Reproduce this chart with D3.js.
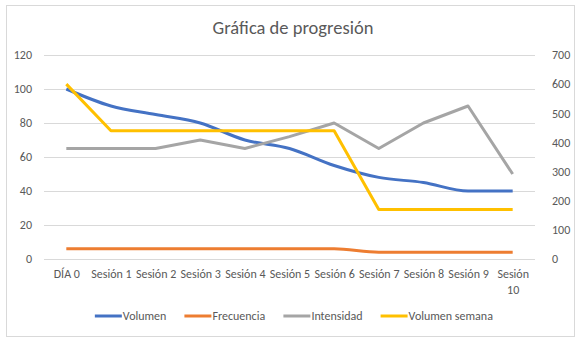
<!DOCTYPE html>
<html>
<head>
  <meta charset="utf-8">
  <style>
    body { margin: 0; background: #fff; }
    text { font-family: Carlito, Lato, "Liberation Sans", sans-serif; fill: #595959; }
  </style>
</head>
<body>
  <script src="https://cdn.jsdelivr.net/npm/d3@7"></script>
  <script>
    // data
    var sesiones = ["DÍA 0", "Sesión 1", "Sesión 2", "Sesión 3", "Sesión 4", "Sesión 5",
                    "Sesión 6", "Sesión 7", "Sesión 8", "Sesión 9", "Sesión 10"];
    var volumen = [100, 90, 85, 80, 70, 65, 55, 48, 45, 40, 40];
    var frecuencia = [6, 6, 6, 6, 6, 6, 6, 4, 4, 4, 4];
    var intensidad = [65, 65, 65, 70, 65, 72, 80, 65, 80, 90, 50];
    var volumenSemana = [600, 440, 440, 440, 440, 440, 440, 170, 170, 170, 170];
    var leftTicks = [0, 20, 40, 60, 80, 100, 120];
    var rightTicks = [0, 100, 200, 300, 400, 500, 600, 700];

    var global_width = 581, global_height = 342;
    var margin = {top: 55, right: 46, bottom: 83, left: 44};
    var width = global_width - margin.left - margin.right,
        height = global_height - margin.top - margin.bottom;

    var svg = d3.select("body").append("svg")
      .attr("width", global_width)
      .attr("height", global_height);

    // chart border
    svg.append("rect")
      .attr("x", 6.5).attr("y", 5.5)
      .attr("width", 568).attr("height", 331)
      .attr("fill", "#fff")
      .attr("stroke", "#d9d9d9");

    var g = svg.append("g")
      .attr("transform", "translate(" + margin.left + "," + margin.top + ")");

    var x = d3.scalePoint().domain(sesiones).range([0, width]).padding(0.5);
    var y = d3.scaleLinear().domain([0, 120]).range([height, 0]);
    var y2 = d3.scaleLinear().domain([0, 700]).range([height, 0]);

    // gridlines
    g.selectAll(".grid")
      .data(leftTicks)
      .enter().append("line")
      .attr("x1", 0).attr("x2", width)
      .attr("y1", function(d) { return y(d) + 0.5; })
      .attr("y2", function(d) { return y(d) + 0.5; })
      .attr("stroke", "#d9d9d9");

    // left axis
    var yAxis = g.append("g")
      .call(d3.axisLeft(y).tickValues(leftTicks).tickSize(0).tickPadding(12));
    yAxis.select(".domain").remove();
    yAxis.selectAll("text").style("font-size", "12px");

    // right axis
    var yAxis2 = g.append("g")
      .attr("transform", "translate(" + width + ",0)")
      .call(d3.axisRight(y2).tickValues(rightTicks).tickSize(0).tickPadding(17));
    yAxis2.select(".domain").remove();
    yAxis2.selectAll("text").style("font-size", "12px");

    // x axis
    var xAxis = g.append("g")
      .attr("transform", "translate(0," + height + ")")
      .call(d3.axisBottom(x).tickSize(0).tickPadding(10));
    xAxis.select(".domain").remove();
    xAxis.selectAll("text").style("font-size", "12px").call(wrap, x.step() - 2);

    function wrap(texts, w) {
      texts.each(function() {
        var t = d3.select(this);
        if (this.getComputedTextLength() <= w) return;
        var words = t.text().split(" "), dy = t.attr("dy");
        t.text(null);
        words.forEach(function(word, i) {
          t.append("tspan").attr("x", 0).attr("dy", i == 0 ? dy : "1.4em").text(word);
        });
      });
    }

    // series
    var series = [
      {name: "Volumen", values: volumen, scale: y, color: "#4472C4", curve: d3.curveMonotoneX},
      {name: "Frecuencia", values: frecuencia, scale: y, color: "#ED7D31", curve: d3.curveMonotoneX},
      {name: "Intensidad", values: intensidad, scale: y, color: "#A5A5A5", curve: d3.curveLinear},
      {name: "Volumen semana", values: volumenSemana, scale: y2, color: "#FFC000", curve: d3.curveLinear}
    ];

    series.forEach(function(s) {
      var line = d3.line()
        .x(function(d, i) { return x(sesiones[i]); })
        .y(function(d) { return s.scale(d); })
        .curve(s.curve);
      g.append("path")
        .datum(s.values)
        .attr("d", line)
        .attr("fill", "none")
        .attr("stroke", s.color)
        .attr("stroke-width", 3)
        .attr("stroke-linejoin", "round");
    });

    // legend
    var legend = svg.append("g").attr("transform", "translate(0,316)");
    var items = legend.selectAll(".item")
      .data(series)
      .enter().append("g");
    items.append("line")
      .attr("x1", 0).attr("x2", 27)
      .attr("stroke", function(d) { return d.color; })
      .attr("stroke-width", 3);
    items.append("text")
      .attr("x", 28).attr("dy", "0.35em")
      .style("font-size", "12px")
      .text(function(d) { return d.name; });
    var pos = 0, offsets = [];
    items.each(function() {
      offsets.push(pos);
      pos += this.getBBox().width + 18;
    });
    var start = 294 - (pos - 18) / 2;
    items.attr("transform", function(d, i) { return "translate(" + (start + offsets[i]) + ",0)"; });

    // title
    svg.append("text")
      .attr("x", 293).attr("y", 34)
      .attr("text-anchor", "middle")
      .style("font-size", "18.5px")
      .text("Gráfica de progresión");
  </script>
</body>
</html>
